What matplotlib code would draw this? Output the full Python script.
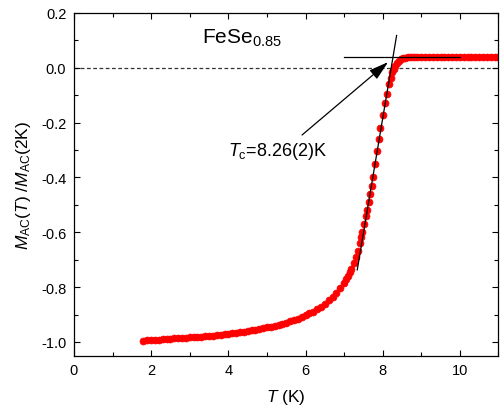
import matplotlib
matplotlib.use("Agg")
import matplotlib.pyplot as plt
from matplotlib.ticker import MultipleLocator

plt.rcParams['font.family'] = ['Liberation Sans', 'DejaVu Sans']
plt.rcParams['mathtext.fontset'] = 'custom'
plt.rcParams['mathtext.rm'] = 'Liberation Sans'
plt.rcParams['mathtext.it'] = 'Liberation Sans:italic'
plt.rcParams['mathtext.default'] = 'regular'

temp = [1.8, 1.9, 2.0, 2.1, 2.2, 2.3, 2.4, 2.5, 2.6, 2.7, 2.8, 2.9, 3.0,
        3.1, 3.2, 3.3, 3.4, 3.5, 3.6, 3.7, 3.8, 3.9, 4.0, 4.1, 4.2, 4.3,
        4.4, 4.5, 4.6, 4.7, 4.8, 4.9, 5.0, 5.1, 5.2, 5.3, 5.4, 5.5, 5.6,
        5.7, 5.8, 5.9, 6.0, 6.1, 6.2, 6.3, 6.4, 6.5, 6.6, 6.7, 6.8, 6.9,
        7.0, 7.05, 7.1, 7.15, 7.19, 7.25, 7.30, 7.36, 7.40, 7.44, 7.47,
        7.52, 7.56, 7.60, 7.64, 7.67, 7.71, 7.74, 7.79, 7.84, 7.90, 7.94,
        8.00, 8.05, 8.10, 8.16, 8.21, 8.25, 8.29, 8.33, 8.37, 8.42, 8.47,
        8.52, 8.58, 8.65, 8.72, 8.80, 8.9, 9.0, 9.1, 9.2, 9.3, 9.4, 9.5,
        9.6, 9.7, 9.8, 9.9, 10.0, 10.1, 10.2, 10.3, 10.4, 10.5, 10.6,
        10.7, 10.8, 10.9, 11.0]
m_ratio = [-0.995, -0.994, -0.993, -0.992, -0.991, -0.990, -0.989, -0.988,
           -0.987, -0.986, -0.985, -0.984, -0.983, -0.982, -0.981, -0.980,
           -0.979, -0.978, -0.977, -0.975, -0.974, -0.972, -0.970, -0.969,
           -0.967, -0.965, -0.963, -0.961, -0.958, -0.956, -0.953, -0.950,
           -0.947, -0.944, -0.940, -0.937, -0.933, -0.929, -0.925, -0.920,
           -0.915, -0.909, -0.903, -0.896, -0.889, -0.880, -0.871, -0.860,
           -0.848, -0.835, -0.820, -0.804, -0.786, -0.772, -0.758, -0.746,
           -0.734, -0.712, -0.691, -0.667, -0.640, -0.617, -0.600, -0.569,
           -0.540, -0.518, -0.488, -0.460, -0.432, -0.400, -0.352, -0.305,
           -0.258, -0.218, -0.172, -0.130, -0.095, -0.060, -0.036, -0.017,
           -0.004, 0.008, 0.018, 0.026, 0.031, 0.035, 0.037, 0.039, 0.040,
           0.041, 0.041, 0.041, 0.041, 0.041, 0.041, 0.041, 0.041, 0.041,
           0.041, 0.041, 0.041, 0.041, 0.041, 0.041, 0.041, 0.041, 0.041,
           0.041, 0.041, 0.041, 0.041, 0.041]

# construction lines used to get Tc
tangent_t = [7.34, 8.36]
tangent_m = [-0.737, 0.118]
plateau_t = [7.0, 10.0]
plateau_m = [0.040, 0.040]

fig = plt.figure(figsize=(5.01, 4.10), dpi=100)
ax = fig.add_axes([0.1477, 0.130, 0.8473, 0.8359])

ax.axhline(0.0, color='#333333', lw=0.9, ls=(0, (3, 2)), zorder=1)
ax.plot(temp, m_ratio, 'o', color='red', ms=5, mec='red', mew=0.5, zorder=2)
ax.plot(tangent_t, tangent_m, color='black', lw=0.9, zorder=3)
ax.plot(plateau_t, plateau_m, color='black', lw=0.9, zorder=3)

ax.annotate('', xy=(8.14, 0.021), xytext=(5.91, -0.245),
            arrowprops=dict(arrowstyle='-|>,head_length=1.2,head_width=0.35',
                            mutation_scale=10, color='black', lw=0.9,
                            shrinkA=0, shrinkB=0))

ax.text(3.32, 0.092, r'FeSe$_{0.85}$', fontsize=15, ha='left', va='baseline')
ax.text(4.0, -0.319, r'$\mathit{T}_{c}$=8.26(2)K', fontsize=13,
        ha='left', va='baseline')

ax.set_xlim(0, 11)
ax.set_ylim(-1.05, 0.2)
ax.xaxis.set_major_locator(MultipleLocator(2))
ax.xaxis.set_minor_locator(MultipleLocator(1))
ax.yaxis.set_major_locator(MultipleLocator(0.2))
ax.yaxis.set_minor_locator(MultipleLocator(0.1))
ax.yaxis.set_major_formatter(plt.FuncFormatter(lambda v, p: f'{v:.1f}'))
ax.tick_params(which='both', direction='in', top=True, right=True,
               labelsize=10.5, pad=5.5)
ax.tick_params(which='major', length=4.5, width=0.8)
ax.tick_params(which='minor', length=2.8, width=0.8)
for s in ax.spines.values():
    s.set_linewidth(0.9)

ax.set_xlabel(r'$\mathit{T}$ (K)', fontsize=12.5, labelpad=7)
ax.set_ylabel(r'$\mathit{M}_{AC}(\mathit{T})$ /$\mathit{M}_{AC}$(2K)',
              fontsize=12.5, labelpad=6)

fig.savefig('out.png', dpi=100)
